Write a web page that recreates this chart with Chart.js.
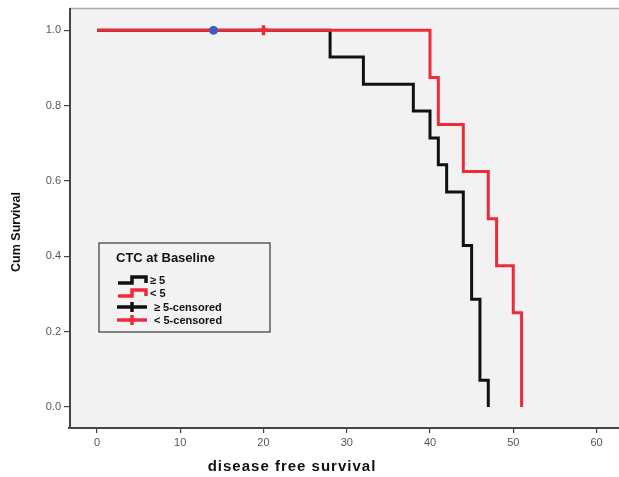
<!DOCTYPE html>
<html>
<head>
<meta charset="utf-8">
<script src="https://cdn.jsdelivr.net/npm/chart.js@4"></script>
<style>
  html, body { margin: 0; padding: 0; background: #fff; overflow: hidden; }
  canvas { display: block; }
</style>
</head>
<body>
<canvas id="km" width="619" height="477"></canvas>
<script>
// Kaplan-Meier steps
const highTimes = [0, 28, 32, 38, 40, 41, 42, 44, 45, 46, 47];
const highSurv = [1.0, 0.929, 0.857, 0.786, 0.714, 0.643, 0.571, 0.429, 0.286, 0.071, 0.0];
const lowTimes = [0, 40, 41, 44, 47, 48, 50, 51];
const lowSurv = [1.0, 0.875, 0.75, 0.625, 0.5, 0.375, 0.25, 0.0];
const highCensorTimes = [14];
const highCensorSurv = [1.0];
const lowCensorTimes = [20];
const lowCensorSurv = [1.0];
const xTicks = [0, 10, 20, 30, 40, 50, 60];
const yTicks = [0.0, 0.2, 0.4, 0.6, 0.8, 1.0];
const legendTitle = "CTC at Baseline";

const BLACK = "#111111";
const RED = "#ee2b3a";
const BLUE = "#3d5cbf";

function pts(xs, ys) {
  return xs.map((x, i) => ({ x: x, y: ys[i] }));
}

// grey plot panel; the panel runs on past the right edge of the picture
const plotBg = {
  id: "plotBg",
  beforeDraw(chart) {
    const { ctx, chartArea: a, width } = chart;
    ctx.save();
    ctx.fillStyle = "#f2f2f2";
    ctx.fillRect(a.left, a.top, width - a.left, a.bottom - a.top);
    ctx.strokeStyle = "#a8a8a8";
    ctx.lineWidth = 1.5;
    ctx.beginPath();
    ctx.moveTo(a.left, a.top);
    ctx.lineTo(width, a.top);
    ctx.stroke();
    ctx.restore();
  },
  afterDraw(chart) {
    const { ctx, chartArea: a, width } = chart;
    ctx.save();
    ctx.strokeStyle = "#444";
    ctx.lineWidth = 2;
    ctx.beginPath();
    ctx.moveTo(a.left - 2, a.bottom + 1);
    ctx.lineTo(width, a.bottom + 1);
    ctx.stroke();
    ctx.restore();
  },
};

function drawStepGlyph(ctx, x, y, color) {
  ctx.save();
  ctx.strokeStyle = color;
  ctx.lineWidth = 3.5;
  ctx.beginPath();
  ctx.moveTo(x, y + 3);
  ctx.lineTo(x + 14, y + 3);
  ctx.lineTo(x + 14, y - 3);
  ctx.lineTo(x + 28, y - 3);
  ctx.lineTo(x + 28, y + 3);
  ctx.stroke();
  ctx.restore();
}

function drawPlusGlyph(ctx, x, y, color) {
  ctx.save();
  ctx.strokeStyle = color;
  ctx.lineWidth = 3.5;
  ctx.beginPath();
  ctx.moveTo(x, y);
  ctx.lineTo(x + 30, y);
  ctx.moveTo(x + 15, y - 5);
  ctx.lineTo(x + 15, y + 5);
  ctx.stroke();
  ctx.restore();
}

const kmLegend = {
  id: "kmLegend",
  afterDraw(chart) {
    const ctx = chart.ctx;
    const bx = 99, by = 243, bw = 171, bh = 89;
    ctx.save();
    ctx.strokeStyle = "#444";
    ctx.lineWidth = 1.3;
    ctx.strokeRect(bx, by, bw, bh);
    ctx.fillStyle = "#111";
    ctx.font = "bold 13px 'Liberation Sans', Arial, sans-serif";
    ctx.textBaseline = "middle";
    ctx.fillText(legendTitle, 116, 258);
    ctx.font = "bold 11px 'Liberation Sans', Arial, sans-serif";
    const ds = chart.data.datasets;
    const rows = [280, 293, 307, 320];
    ds.forEach((d) => {
      const y = rows[d.legendRow];
      if (d.glyph === "step") drawStepGlyph(ctx, 118, y, d.glyphColor);
      else drawPlusGlyph(ctx, 117, y, d.glyphColor);
      ctx.fillStyle = "#111";
      ctx.fillText(d.label, d.glyph === "step" ? 150 : 154, y + 1);
    });
    ctx.restore();
  },
};

const axisTitles = {
  id: "axisTitles",
  afterDraw(chart) {
    const ctx = chart.ctx;
    ctx.save();
    ctx.fillStyle = "#111";
    ctx.font = "bold 15px 'Liberation Sans', Arial, sans-serif";
    ctx.textAlign = "center";
    ctx.textBaseline = "middle";
    if (ctx.letterSpacing !== undefined) ctx.letterSpacing = "1px";
    ctx.fillText("disease free survival", 292, 467);
    ctx.letterSpacing = "0px";
    ctx.font = "bold 12.5px 'Liberation Sans', Arial, sans-serif";
    ctx.translate(17, 232);
    ctx.rotate(-Math.PI / 2);
    ctx.fillText("Cum Survival", 0, 0);
    ctx.restore();
  },
};

new Chart(document.getElementById("km"), {
  type: "line",
  data: {
    datasets: [
      {
        label: "\u2265 5",
        data: pts(highTimes, highSurv),
        borderColor: BLACK,
        borderWidth: 3,
        stepped: "before",
        pointRadius: 0,
        fill: false,
        order: 4,
        glyph: "step",
        glyphColor: BLACK,
        legendRow: 0,
      },
      {
        label: "< 5",
        data: pts(lowTimes, lowSurv),
        borderColor: RED,
        borderWidth: 3,
        stepped: "before",
        pointRadius: 0,
        fill: false,
        order: 3,
        glyph: "step",
        glyphColor: RED,
        legendRow: 1,
      },
      {
        label: "\u2265 5-censored",
        data: pts(highCensorTimes, highCensorSurv),
        showLine: false,
        pointStyle: "circle",
        pointRadius: 4,
        pointBorderWidth: 1,
        borderColor: BLUE,
        backgroundColor: BLUE,
        order: 2,
        glyph: "plus",
        glyphColor: BLACK,
        legendRow: 2,
      },
      {
        label: "< 5-censored",
        data: pts(lowCensorTimes, lowCensorSurv),
        showLine: false,
        pointStyle: "cross",
        pointRadius: 5,
        pointBorderWidth: 3.5,
        borderColor: RED,
        backgroundColor: RED,
        order: 1,
        glyph: "plus",
        glyphColor: RED,
        legendRow: 3,
      },
    ],
  },
  options: {
    responsive: false,
    animation: false,
    devicePixelRatio: 1,
    layout: { padding: { top: 7, right: 0, left: 0, bottom: 0 } },
    plugins: {
      legend: { display: false },
      tooltip: { enabled: false },
    },
    scales: {
      x: {
        type: "linear",
        min: -3.24,
        max: 61.68,
        afterFit: (s) => { s.height = 50; s.paddingRight = 0; s.paddingLeft = 0; },
        afterBuildTicks: (s) => { s.ticks = xTicks.map((v) => ({ value: v })); },
        ticks: {
          color: "#555",
          padding: 3,
          font: { size: 11, family: "'Liberation Sans', Arial, sans-serif" },
          callback: (v) => String(v),
        },
        grid: { drawOnChartArea: false, drawTicks: true, tickLength: 6, color: "#444", lineWidth: 1.2 },
        border: { display: false },
      },
      y: {
        type: "linear",
        min: -0.053,
        max: 1.058,
        afterFit: (s) => { s.width = 70; s.paddingTop = 0; s.paddingBottom = 0; },
        afterBuildTicks: (s) => { s.ticks = yTicks.map((v) => ({ value: v })); },
        ticks: {
          color: "#555",
          padding: 3,
          font: { size: 11, family: "'Liberation Sans', Arial, sans-serif" },
          callback: (v) => Number(v).toFixed(1),
        },
        grid: { drawOnChartArea: false, drawTicks: true, tickLength: 6, color: "#444", lineWidth: 1.2 },
        border: { display: true, color: "#444", width: 2 },
      },
    },
  },
  plugins: [plotBg, kmLegend, axisTitles],
});
</script>
</body>
</html>
